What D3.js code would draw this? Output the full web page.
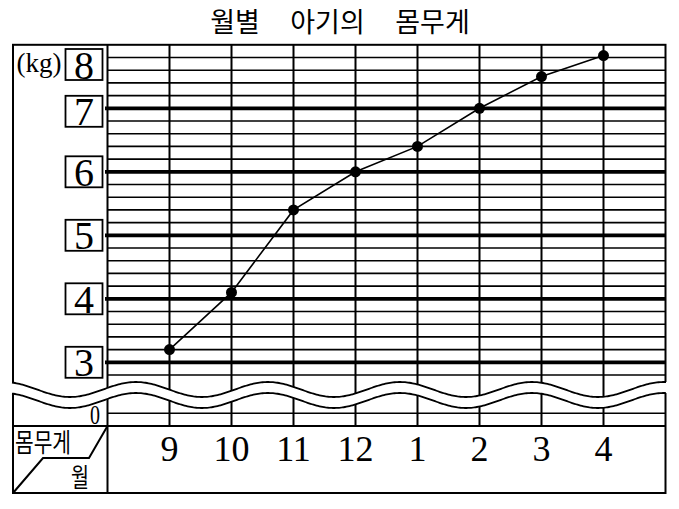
<!DOCTYPE html>
<html><head><meta charset="utf-8">
<script src="https://cdn.jsdelivr.net/npm/d3@7"></script>
<style>body{margin:0;background:#fff}</style>
</head><body><svg id="c" width="679" height="509"></svg>
<script>
// ---- data ----
const title = "월별 아기의 몸무게";
const months = ["9","10","11","12","1","2","3","4"];
const weights = [3.2, 4.1, 5.4, 6.0, 6.4, 7.0, 7.5, 7.83];
const yLabels = [3, 4, 5, 6, 7, 8];
const unitLabel = "(kg)";
const zeroLabel = "0";
const cornerTop = "몸무게";
const cornerBottom = "월";

// ---- layout ----
const svg = d3.select("#c");
const L = 13, R = 665.5, T = 44.8, B = 493, PL = 107.5, SEP = 426;
const x = d3.scalePoint().domain(months).range([PL, R]).padding(1);
const y = d3.scaleLinear().domain([3, 8]).range([362.3, T]);
const yLow = d3.scaleLinear().domain([0, 0.2]).range([SEP, 413.3]);
const serif = "'Liberation Serif','Times New Roman',serif";
const kr = "'Noto Sans CJK KR','Noto Sans CJK SC',sans-serif";

// minor gridlines (every 0.2 kg)
const minor = d3.range(14, 40).map(d => d / 5).filter(v => Math.abs(v - Math.round(v)) > 1e-6);
svg.append("g").selectAll("line").data(minor).join("line")
  .attr("x1", PL).attr("x2", R).attr("y1", d => y(d)).attr("y2", d => y(d))
  .attr("stroke", "#000").attr("stroke-width", 1.6);
// low gridline below break
svg.append("g").selectAll("line").data([0.2]).join("line")
  .attr("x1", PL).attr("x2", R).attr("y1", d => yLow(d)).attr("y2", d => yLow(d))
  .attr("stroke", "#000").attr("stroke-width", 1.6);
// major gridlines
const major = yLabels.filter(v => v < 8);
svg.append("g").selectAll("line").data(major).join("line")
  .attr("x1", PL - 2.5).attr("x2", R).attr("y1", d => y(d)).attr("y2", d => y(d))
  .attr("stroke", "#000").attr("stroke-width", 3.8);
// vertical month lines
svg.append("g").selectAll("line").data(months).join("line")
  .attr("x1", d => x(d)).attr("x2", d => x(d)).attr("y1", T).attr("y2", SEP)
  .attr("stroke", "#000").attr("stroke-width", 2);

// frame
const fr = svg.append("g").attr("stroke", "#000").attr("stroke-width", 2).attr("fill", "none");
fr.append("rect").attr("x", L).attr("y", T).attr("width", R - L).attr("height", B - T);
fr.append("line").attr("x1", PL).attr("x2", PL).attr("y1", T).attr("y2", B);
fr.append("line").attr("x1", L).attr("x2", R).attr("y1", SEP).attr("y2", SEP);
fr.append("path").attr("d", `M${PL},${SEP} L89,458 L43,458 L${L},${B}`);

// wave break
const waveUp = xx => 389.5 - 7.5 * Math.cos(2 * Math.PI * (xx - 136) / 132);
const xs = d3.range(L - 1.5, R + 1.6, 1.5);
const band = xs.map(v => [v, waveUp(v)]).concat(xs.slice().reverse().map(v => [v, waveUp(v) + 11]));
svg.append("path").attr("d", d3.line()(band) + "Z").attr("fill", "#fff");
const xs2 = d3.range(L - 1, R + 1.1, 1.5);
[0, 11].forEach(off => {
  svg.append("path").attr("d", d3.line()(xs2.map(v => [v, waveUp(v) + off])))
    .attr("fill", "none").attr("stroke", "#000").attr("stroke-width", 1.8);
});

// data line + points
svg.append("path").datum(weights)
  .attr("d", d3.line().x((d, i) => x(months[i])).y(d => y(d)))
  .attr("fill", "none").attr("stroke", "#000").attr("stroke-width", 1.6);
svg.append("g").selectAll("circle").data(weights).join("circle")
  .attr("cx", (d, i) => x(months[i])).attr("cy", d => y(d)).attr("r", 5.5).attr("fill", "#000");

// y label boxes
const boxTop = v => Math.max(y(v) - 15.5, 49) + (v === 7 ? 3 : 0);
const yl = svg.append("g").selectAll("g").data(yLabels).join("g");
yl.append("rect").attr("x", 65.5).attr("y", boxTop).attr("width", 37).attr("height", 31)
  .attr("fill", "#fff").attr("stroke", "#000").attr("stroke-width", 1.8);
yl.append("text").attr("x", 84).attr("y", d => boxTop(d) + 29.5).attr("text-anchor", "middle")
  .attr("font-family", serif).attr("font-size", 40).text(d => d);

svg.append("text").attr("x", 16.5).attr("y", 72).attr("font-family", serif).attr("font-size", 27).text(unitLabel);
svg.append("text").attr("x", 90).attr("y", 424).attr("font-family", serif).attr("font-size", 28)
  .attr("textLength", 10).attr("lengthAdjust", "spacingAndGlyphs").text(zeroLabel);

// month labels
svg.append("g").selectAll("text").data(months).join("text")
  .attr("x", d => x(d)).attr("y", 461).attr("text-anchor", "middle")
  .attr("font-family", serif).attr("font-size", 36).text(d => d);

// corner labels
svg.append("text").attr("x", 15).attr("y", 452).attr("font-family", kr).attr("font-size", 26)
  .attr("textLength", 56).attr("lengthAdjust", "spacingAndGlyphs").text(cornerTop);
svg.append("text").attr("x", 71).attr("y", 487).attr("font-family", kr).attr("font-size", 26)
  .attr("textLength", 18).attr("lengthAdjust", "spacingAndGlyphs").text(cornerBottom);

// title
const words = title.split(" ");
const wordX = [235, 327.5, 432.5];
const tt = svg.append("text").attr("y", 32).attr("font-family", kr).attr("font-size", 27).attr("text-anchor", "middle");
tt.selectAll("tspan").data(words).join("tspan").attr("x", (d, i) => wordX[i]).text(d => d);
</script>
</body></html>
